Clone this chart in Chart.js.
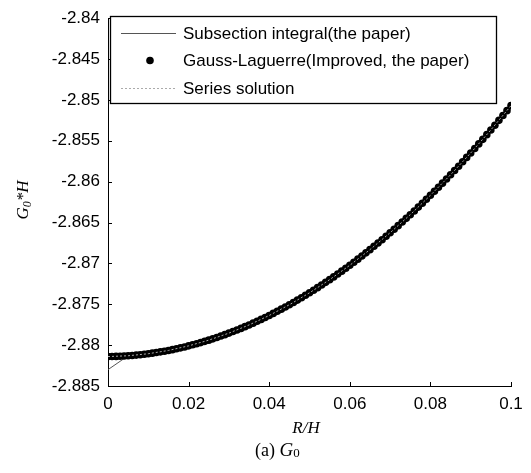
<!DOCTYPE html>
<html>
<head>
<meta charset="utf-8">
<script src="https://cdn.jsdelivr.net/npm/chart.js@4.4.0/dist/chart.umd.min.js"></script>
<style>
  html, body { margin: 0; padding: 0; background: #fff; }
  #wrap { width: 531px; height: 473px; }
</style>
</head>
<body>
<div id="wrap"><canvas id="g0Chart" width="531" height="473"></canvas></div>
<script>
// R/H sample points of the Gauss-Laguerre evaluation
const xDots = [
  0, 0.001, 0.002, 0.003, 0.004, 0.005, 0.006, 0.007, 0.008, 0.009,
  0.010, 0.011, 0.012, 0.013, 0.014, 0.015, 0.016, 0.017, 0.018, 0.019,
  0.020, 0.021, 0.022, 0.023, 0.024, 0.025, 0.026, 0.027, 0.028, 0.029,
  0.030, 0.031, 0.032, 0.033, 0.034, 0.035, 0.036, 0.037, 0.038, 0.039,
  0.040, 0.041, 0.042, 0.043, 0.044, 0.045, 0.046, 0.047, 0.048, 0.049,
  0.050, 0.051, 0.052, 0.053, 0.054, 0.055, 0.056, 0.057, 0.058, 0.059,
  0.060, 0.061, 0.062, 0.063, 0.064, 0.065, 0.066, 0.067, 0.068, 0.069,
  0.070, 0.071, 0.072, 0.073, 0.074, 0.075, 0.076, 0.077, 0.078, 0.079,
  0.080, 0.081, 0.082, 0.083, 0.084, 0.085, 0.086, 0.087, 0.088, 0.089,
  0.090, 0.091, 0.092, 0.093, 0.094, 0.095, 0.096, 0.097, 0.098, 0.099,
  0.100
];
// G0*H, Gauss-Laguerre (improved)
const gaussValues = [
  -2.88140, -2.88139, -2.88138, -2.88136, -2.88133, -2.88130, -2.88126, -2.88122, -2.88117, -2.88111,
  -2.88105, -2.88098, -2.88091, -2.88082, -2.88074, -2.88065, -2.88055, -2.88044, -2.88033, -2.88022,
  -2.88009, -2.87996, -2.87983, -2.87969, -2.87954, -2.87939, -2.87923, -2.87906, -2.87889, -2.87872,
  -2.87853, -2.87834, -2.87815, -2.87795, -2.87774, -2.87753, -2.87731, -2.87708, -2.87685, -2.87661,
  -2.87637, -2.87612, -2.87586, -2.87560, -2.87533, -2.87506, -2.87478, -2.87449, -2.87420, -2.87390,
  -2.87360, -2.87329, -2.87297, -2.87265, -2.87232, -2.87199, -2.87165, -2.87130, -2.87095, -2.87059,
  -2.87023, -2.86986, -2.86948, -2.86910, -2.86871, -2.86832, -2.86791, -2.86751, -2.86710, -2.86668,
  -2.86625, -2.86582, -2.86538, -2.86494, -2.86449, -2.86404, -2.86358, -2.86311, -2.86264, -2.86216,
  -2.86167, -2.86118, -2.86068, -2.86018, -2.85967, -2.85916, -2.85863, -2.85811, -2.85757, -2.85703,
  -2.85649, -2.85594, -2.85538, -2.85482, -2.85425, -2.85367, -2.85309, -2.85250, -2.85191, -2.85131,
  -2.85070
];

// coarser grid for the two line solutions
const xLines = [0, 0.005, 0.01, 0.015, 0.02, 0.025, 0.03, 0.035, 0.04, 0.045, 0.05,
                0.055, 0.06, 0.065, 0.07, 0.075, 0.08, 0.085, 0.09, 0.095, 0.1];
const subsectionValues = [
  -2.88300, -2.88130, -2.88105, -2.88065, -2.88009, -2.87939, -2.87853, -2.87753, -2.87637, -2.87506,
  -2.87360, -2.87199, -2.87023, -2.86832, -2.86625, -2.86404, -2.86167, -2.85916, -2.85649, -2.85367,
  -2.85070
];
const seriesValues = [
  -2.88140, -2.88130, -2.88105, -2.88065, -2.88009, -2.87939, -2.87853, -2.87753, -2.87637, -2.87506,
  -2.87360, -2.87199, -2.87023, -2.86832, -2.86625, -2.86404, -2.86167, -2.85916, -2.85649, -2.85367,
  -2.85070
];

const xTickValues = [0, 0.02, 0.04, 0.06, 0.08, 0.1];
const xTickLabels = ['0', '0.02', '0.04', '0.06', '0.08', '0.1'];
const yTickValues = [-2.885, -2.88, -2.875, -2.87, -2.865, -2.86, -2.855, -2.85, -2.845, -2.84];
const yTickLabels = ['-2.885', '-2.88', '-2.875', '-2.87', '-2.865', '-2.86', '-2.855', '-2.85', '-2.845', '-2.84'];

const seriesNames = ['Subsection integral(the paper)', 'Gauss-Laguerre(Improved, the paper)', 'Series solution'];

function toPoints(xs, ys) {
    return xs.map((x, i) => ({ x: x, y: ys[i] }));
}

const sansFont = '"Liberation Sans", Arial, sans-serif';
const serifFont = '"Liberation Serif", "Times New Roman", serif';

// ticks inside the axes, legend box, axis titles and caption
const matlabDecor = {
    id: 'matlabDecor',
    afterDraw(chart) {
        const ctx = chart.ctx;
        const xs = chart.scales.x;
        const ys = chart.scales.y;
        const area = chart.chartArea;
        ctx.save();

        ctx.strokeStyle = '#000';
        ctx.lineWidth = 1;
        xs.ticks.forEach(t => {
            const px = Math.round(xs.getPixelForValue(t.value)) + 0.5;
            ctx.beginPath();
            ctx.moveTo(px, area.bottom);
            ctx.lineTo(px, area.bottom - 4);
            ctx.stroke();
        });
        ys.ticks.forEach(t => {
            const py = Math.round(ys.getPixelForValue(t.value)) + 0.5;
            ctx.beginPath();
            ctx.moveTo(area.left, py);
            ctx.lineTo(area.left + 4, py);
            ctx.stroke();
        });

        // legend
        const lg = { left: 110.5, top: 16.5, width: 386, height: 87 };
        ctx.fillStyle = '#fff';
        ctx.fillRect(lg.left, lg.top, lg.width, lg.height);
        ctx.lineWidth = 1.3;
        ctx.strokeStyle = '#000';
        ctx.strokeRect(lg.left, lg.top, lg.width, lg.height);

        const rowY = [33, 60.5, 88];
        ctx.font = '17px ' + sansFont;
        ctx.textBaseline = 'middle';
        ctx.textAlign = 'left';
        chart.data.datasets.forEach((ds, i) => {
            const y = rowY[i];
            if (ds.showLine) {
                ctx.beginPath();
                ctx.strokeStyle = ds.borderColor;
                ctx.lineWidth = ds.borderWidth;
                ctx.setLineDash(ds.borderDash || []);
                ctx.moveTo(121, y + 0.5);
                ctx.lineTo(176, y + 0.5);
                ctx.stroke();
                ctx.setLineDash([]);
            } else {
                ctx.beginPath();
                ctx.fillStyle = ds.backgroundColor;
                ctx.arc(150, y, ds.pointRadius, 0, Math.PI * 2);
                ctx.fill();
            }
            ctx.fillStyle = '#000';
            ctx.fillText(ds.label, 183, y + 1);
        });

        // y axis title G0*H
        ctx.translate(28, 200);
        ctx.rotate(-Math.PI / 2);
        ctx.textBaseline = 'alphabetic';
        ctx.fillStyle = '#000';
        ctx.font = 'italic 17px ' + serifFont;
        const wG = ctx.measureText('G').width;
        ctx.font = 'italic 12px ' + serifFont;
        const w0 = ctx.measureText('0').width;
        ctx.font = 'italic 17px ' + serifFont;
        const wH = ctx.measureText('*H').width;
        let tx = -(wG + w0 + wH) / 2;
        ctx.fillText('G', tx, 0);
        tx += wG;
        ctx.font = 'italic 12px ' + serifFont;
        ctx.fillText('0', tx, 3);
        tx += w0;
        ctx.font = 'italic 17px ' + serifFont;
        ctx.fillText('*H', tx, 0);
        ctx.setTransform(1, 0, 0, 1, 0, 0);

        // x axis title
        ctx.textAlign = 'center';
        ctx.font = 'italic 17px ' + serifFont;
        ctx.fillText('R/H', 306, 433);

        // caption
        ctx.textAlign = 'left';
        ctx.font = '18px ' + serifFont;
        let cx = 255;
        ctx.fillText('(a) ', cx, 456);
        cx += ctx.measureText('(a) ').width;
        ctx.font = 'italic 19px ' + serifFont;
        ctx.fillText('G', cx, 456);
        cx += ctx.measureText('G').width;
        ctx.font = '13px ' + serifFont;
        ctx.fillText('0', cx, 457);

        ctx.restore();
    }
};

const ctx = document.getElementById('g0Chart').getContext('2d');
const g0Chart = new Chart(ctx, {
    type: 'scatter',
    data: {
        datasets: [
            {
                label: seriesNames[0],
                data: toPoints(xLines, subsectionValues),
                showLine: true,
                borderColor: '#555',
                borderWidth: 1,
                pointRadius: 0,
                order: 3
            },
            {
                label: seriesNames[1],
                data: toPoints(xDots, gaussValues),
                showLine: false,
                backgroundColor: '#000',
                borderColor: '#000',
                borderWidth: 0,
                pointRadius: 3.8,
                order: 2
            },
            {
                label: seriesNames[2],
                data: toPoints(xLines, seriesValues),
                showLine: true,
                borderColor: '#aaa',
                borderWidth: 1,
                borderDash: [2, 2],
                pointRadius: 0,
                order: 1
            }
        ]
    },
    options: {
        responsive: false,
        animation: false,
        events: [],
        layout: { padding: { top: 11, right: 20, left: 0, bottom: 0 } },
        plugins: {
            legend: { display: false },
            tooltip: { enabled: false }
        },
        scales: {
            x: {
                type: 'linear',
                min: 0,
                max: 0.1,
                grid: { display: false, drawTicks: false },
                border: { display: true, color: '#000', width: 1 },
                afterBuildTicks: axis => { axis.ticks = xTickValues.map(v => ({ value: v })); },
                afterFit: axis => { axis.height = 87; },
                ticks: {
                    padding: 8,
                    color: '#000',
                    font: { family: sansFont, size: 17 },
                    maxRotation: 0,
                    callback: (value, index) => xTickLabels[index]
                }
            },
            y: {
                type: 'linear',
                min: -2.885,
                max: -2.84,
                grid: { display: false, drawTicks: false },
                border: { display: true, color: '#000', width: 1 },
                afterBuildTicks: axis => { axis.ticks = yTickValues.map(v => ({ value: v })); },
                afterFit: axis => { axis.width = 108; },
                ticks: {
                    padding: 8,
                    color: '#000',
                    font: { family: sansFont, size: 17 },
                    callback: (value, index) => yTickLabels[index]
                }
            }
        }
    },
    plugins: [matlabDecor]
});
</script>
</body>
</html>
